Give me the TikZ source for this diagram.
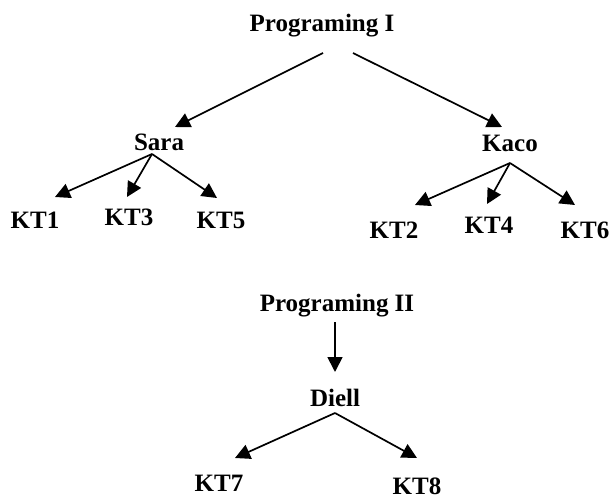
\documentclass[tikz,border=0pt]{standalone}
\usepackage{fontspec}
\setmainfont{Liberation Serif}
\usetikzlibrary{arrows.meta}
\tikzset{
    topic/.style={inner sep=0pt, text height=16.5pt, text depth=0pt,
        font=\bfseries\fontsize{25}{30}\selectfont},
    arr/.style={line width=1.7pt, -{Triangle[length=15pt,width=15pt]}}
}

\begin{document}
\begin{tikzpicture}[x=1pt, y=-1pt]
    \useasboundingbox (0,0) rectangle (611,498);

    \node[topic] (progI) at (322,23) {Programing I};
    \node[topic] (sara) at (159,142) {Sara};
    \node[topic] (kaco) at (510,143) {Kaco};
    \node[topic] (kt1) at (35,220) {KT1};
    \node[topic] (kt3) at (129,217) {KT3};
    \node[topic] (kt5) at (221,220) {KT5};
    \node[topic] (kt2) at (394,230) {KT2};
    \node[topic] (kt4) at (489,225) {KT4};
    \node[topic] (kt6) at (585,230) {KT6};

    \node[topic] (progII) at (337,303) {Programing II};
    \node[topic] (diell) at (335,398) {Diell};
    \node[topic] (kt7) at (219,483) {KT7};
    \node[topic] (kt8) at (417,486) {KT8};

    \draw[arr] ([xshift=1pt,yshift=-30pt]progI.center) -- ([xshift=16pt,yshift=15pt]sara.center);
    \draw[arr] ([xshift=31pt,yshift=-30pt]progI.center) -- ([xshift=-8pt,yshift=16pt]kaco.center);

    \draw[arr] ([xshift=-7pt,yshift=-12pt]sara.center) -- ([xshift=20pt,yshift=23pt]kt1.center);
    \draw[arr] ([xshift=-7pt,yshift=-12pt]sara.center) -- ([xshift=-2pt,yshift=20pt]kt3.center);
    \draw[arr] ([xshift=-7pt,yshift=-12pt]sara.center) -- ([xshift=-4pt,yshift=22pt]kt5.center);

    \draw[arr] ([yshift=-20pt]kaco.center) -- ([xshift=21pt,yshift=25pt]kt2.center);
    \draw[arr] ([yshift=-20pt]kaco.center) -- ([xshift=-2pt,yshift=21pt]kt4.center);
    \draw[arr] ([yshift=-20pt]kaco.center) -- ([xshift=-10pt,yshift=25pt]kt6.center);

    \draw[arr] ([xshift=-2pt,yshift=-19pt]progII.center) -- ([yshift=26pt]diell.center);
    \draw[arr] ([yshift=-15pt]diell.center) -- ([xshift=16pt,yshift=25pt]kt7.center);
    \draw[arr] ([yshift=-15pt]diell.center) -- ([yshift=28pt]kt8.center);
\end{tikzpicture}
\end{document}
